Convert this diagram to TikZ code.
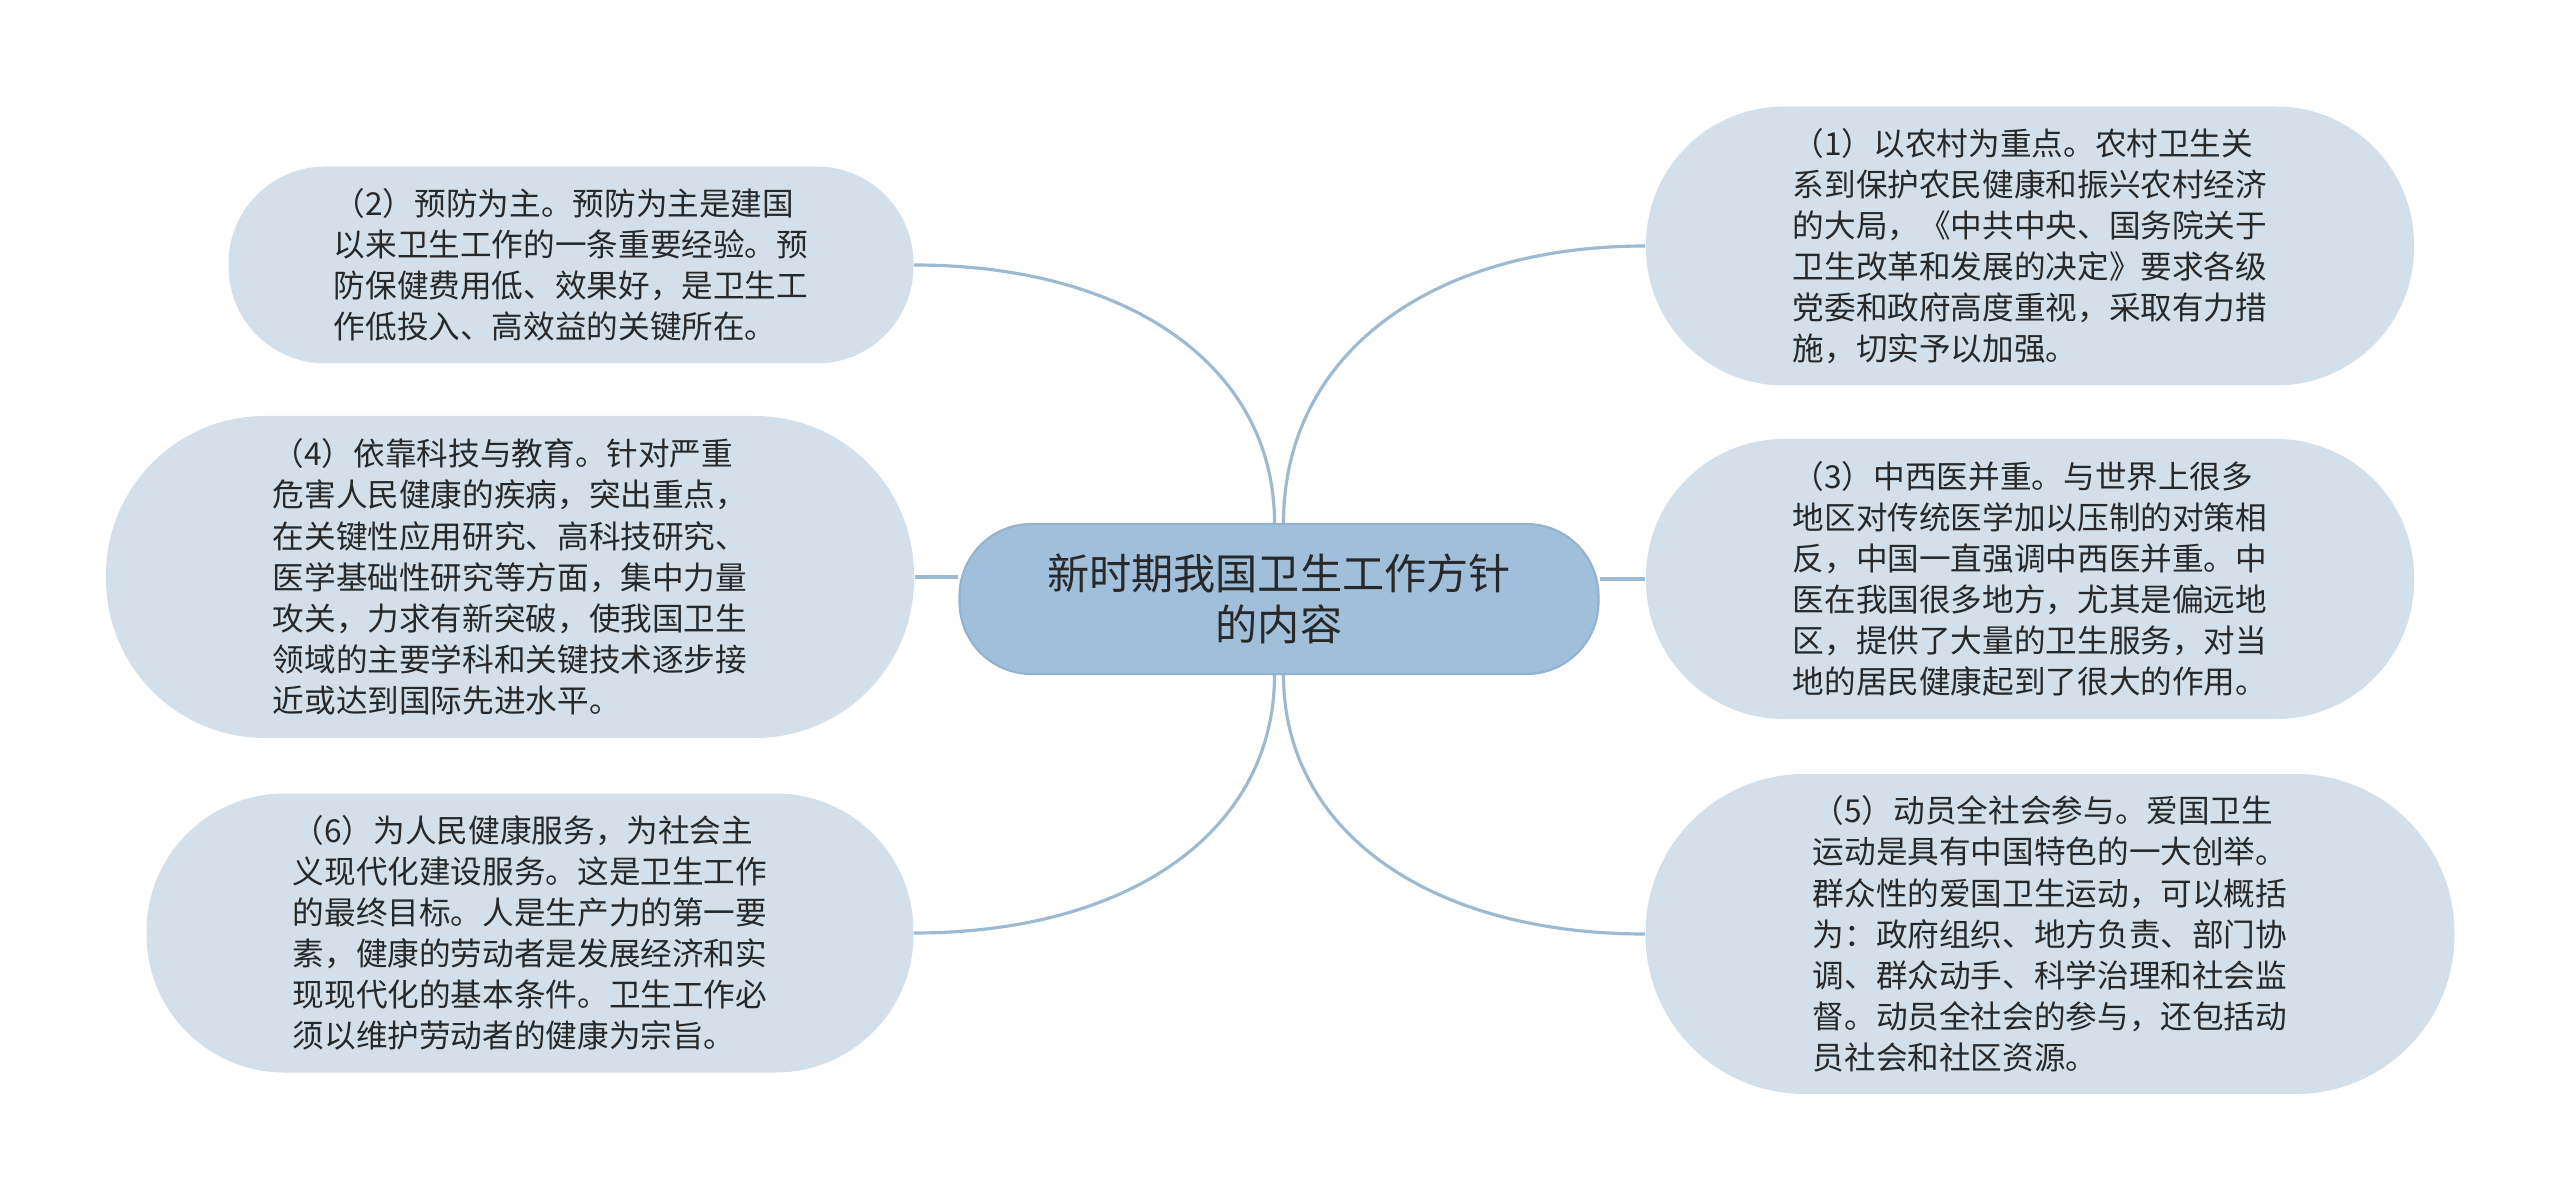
\documentclass[tikz,border=0pt]{standalone}
\usepackage{fontspec}
\setmainfont{Noto Sans CJK SC}
\usepackage{tikz}
\usetikzlibrary{positioning,shapes,calc,backgrounds}
\definecolor{leafblue}{RGB}{211, 224, 233}
\definecolor{coreblue}{RGB}{160, 191, 218}
\definecolor{coreedge}{RGB}{146, 178, 207}
\definecolor{linkblue}{RGB}{158, 186, 208}
\definecolor{textgrey}{RGB}{40, 40, 40}

\begin{document}
\begin{tikzpicture}[node distance=7.5cm,
core/.style ={rectangle, rounded corners=0.72cm, draw=coreedge, line width=0.6pt, fill=coreblue, text=textgrey, align=center, font=\fontsize{12pt}{14.3pt}\selectfont, minimum width=6.39cm, minimum height=1.50cm},
leaf/.style ={rectangle, rounded corners=#1, fill=leafblue, text=textgrey, align=left, font=\fontsize{9pt}{11.7pt}\selectfont},
leaf/.default=1.38cm,
branch/.style ={-, line width=0.9pt, draw=linkblue},
]

\useasboundingbox (0,0) rectangle (25.6,12);

\node (CORE) [core] at (12.79,6.01) {新时期我国卫生工作方针\\的内容};

% left side
\node (PREV) [leaf=0.97cm, left of=CORE, node distance=7.08cm, yshift=3.34cm, minimum width=6.85cm, minimum height=1.97cm] {（2）预防为主。预防为主是建国\\以来卫生工作的一条重要经验。预\\防保健费用低、效果好，是卫生工\\作低投入、高效益的关键所在。};
\node (SCI) [leaf=1.59cm, left of=CORE, node distance=7.69cm, yshift=0.22cm, minimum width=8.08cm, minimum height=3.22cm] {（4）依靠科技与教育。针对严重\\危害人民健康的疾病，突出重点，\\在关键性应用研究、高科技研究、\\医学基础性研究等方面，集中力量\\攻关，力求有新突破，使我国卫生\\领域的主要学科和关键技术逐步接\\近或达到国际先进水平。};
\node (SERV) [leaf, left of=CORE, node distance=7.49cm, yshift=-3.34cm, minimum width=7.67cm, minimum height=2.79cm] {（6）为人民健康服务，为社会主\\义现代化建设服务。这是卫生工作\\的最终目标。人是生产力的第一要\\素，健康的劳动者是发展经济和实\\现现代化的基本条件。卫生工作必\\须以维护劳动者的健康为宗旨。};

% right side
\node (RURAL) [leaf, right of=CORE, node distance=7.51cm, yshift=3.53cm, minimum width=7.68cm, minimum height=2.79cm] {（1）以农村为重点。农村卫生关\\系到保护农民健康和振兴农村经济\\的大局，《中共中央、国务院关于\\卫生改革和发展的决定》要求各级\\党委和政府高度重视，采取有力措\\施，切实予以加强。};
\node (TCM) [leaf, right of=CORE, node distance=7.51cm, yshift=0.20cm, minimum width=7.68cm, minimum height=2.80cm] {（3）中西医并重。与世界上很多\\地区对传统医学加以压制的对策相\\反，中国一直强调中西医并重。中\\医在我国很多地方，尤其是偏远地\\区，提供了大量的卫生服务，对当\\地的居民健康起到了很大的作用。};
\node (MASS) [leaf=1.59cm, right of=CORE, node distance=7.71cm, yshift=-3.35cm, minimum width=8.09cm, minimum height=3.20cm] {（5）动员全社会参与。爱国卫生\\运动是具有中国特色的一大创举。\\群众性的爱国卫生运动，可以概括\\为：政府组织、地方负责、部门协\\调、群众动手、科学治理和社会监\\督。动员全社会的参与，还包括动\\员社会和社区资源。};

\begin{pgfonlayer}{background}
  \fill[white] (0,0) rectangle (25.6,12);
  \draw[branch] ($(CORE.north)+(-0.045,0)$) .. controls +(0,1.55) and +(2.17,0) .. (PREV.east);
  \draw[branch] (SCI.east) -- (SCI.east -| CORE.west);
  \draw[branch] ($(CORE.south)+(-0.045,0)$) .. controls +(0,-1.55) and +(2.17,0) .. (SERV.east);
  \draw[branch] ($(CORE.north)+(0.045,0)$) .. controls +(0,1.67) and +(-2.17,0) .. (RURAL.west);
  \draw[branch] (TCM.west) -- (TCM.west -| CORE.east);
  \draw[branch] ($(CORE.south)+(0.045,0)$) .. controls +(0,-1.55) and +(-2.17,0) .. (MASS.west);
\end{pgfonlayer}

\end{tikzpicture}
\end{document}
